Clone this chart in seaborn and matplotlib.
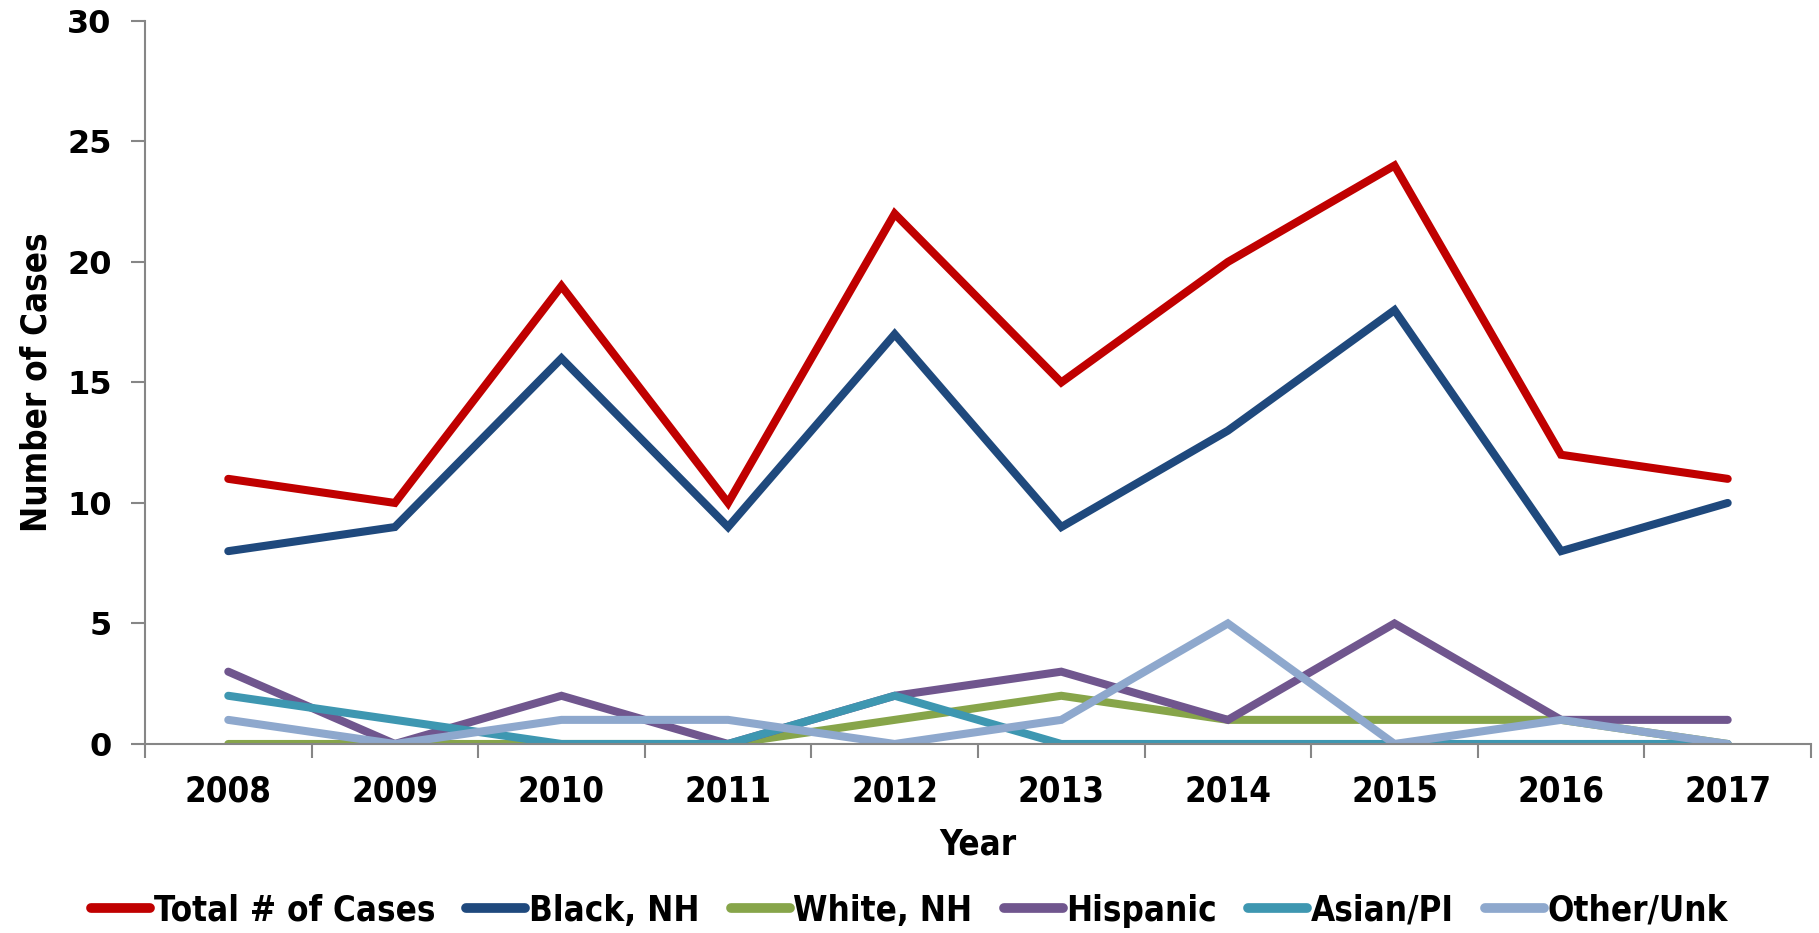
import numpy as np
import pandas as pd
import matplotlib
matplotlib.use("Agg")
import matplotlib.pyplot as plt
import seaborn as sns

years = [2008, 2009, 2010, 2011, 2012, 2013, 2014, 2015, 2016, 2017]
total_cases = [11, 10, 19, 10, 22, 15, 20, 24, 12, 11]
black_nh = [8, 9, 16, 9, 17, 9, 13, 18, 8, 10]
white_nh = [0, 0, 0, 0, 1, 2, 1, 1, 1, 0]
hispanic = [3, 0, 2, 0, 2, 3, 1, 5, 1, 1]
asian_pi = [2, 1, 0, 0, 2, 0, 0, 0, 0, 0]
other_unk = [1, 0, 1, 1, 0, 1, 5, 0, 1, 0]

series_names = ["Total # of Cases", "Black, NH", "White, NH", "Hispanic", "Asian/PI", "Other/Unk"]
series_values = [total_cases, black_nh, white_nh, hispanic, asian_pi, other_unk]
colors = ["#C00000", "#1F497D", "#87A54A", "#70568E", "#3E97B1", "#8EA8CD"]

rows = []
for name, vals in zip(series_names, series_values):
    for yr, v in zip(years, vals):
        rows.append({"Year": yr, "Cases": v, "Group": name})
df = pd.DataFrame(rows)

sns.set_style("white")
plt.rcParams["text.color"] = "black"
plt.rcParams["xtick.color"] = "black"
plt.rcParams["ytick.color"] = "black"
plt.rcParams["axes.labelcolor"] = "black"

fig = plt.figure(figsize=(18.19, 9.33), dpi=100)
ax = fig.add_axes([0.0797, 0.2026, 0.9159, 0.775])

sns.lineplot(data=df, x="Year", y="Cases", hue="Group", hue_order=series_names,
             palette=dict(zip(series_names, colors)), linewidth=5.8,
             ax=ax, legend=True)
for line in ax.get_lines():
    line.set_solid_capstyle("round")
    line.set_solid_joinstyle("miter")

ax.set_xlim(years[0] - 0.5, years[-1] + 0.5)
ax.set_ylim(0, 30)
ax.set_yticks([0, 5, 10, 15, 20, 25, 30])
ax.set_xticks(years)
ax.set_xticks(np.arange(years[0] - 0.5, years[-1] + 1.0, 1.0), minor=True)

for lab in ax.get_yticklabels():
    lab.set_family("DejaVu Sans")
    lab.set_fontweight("bold")
    lab.set_fontsize(23)
ax.set_xticklabels([str(y) for y in years], fontfamily="DejaVu Sans",
                   fontstretch="condensed", fontweight="bold", fontsize=25)

ax.tick_params(axis="x", which="major", bottom=False, length=0, pad=22)
ax.tick_params(axis="x", which="minor", bottom=True, length=10, width=1.5,
               color="#868686", direction="out")
ax.tick_params(axis="y", which="major", left=True, length=10, width=1.5,
               color="#868686", direction="out", pad=14)

for side in ["top", "right"]:
    ax.spines[side].set_visible(False)
for side in ["left", "bottom"]:
    ax.spines[side].set_color("#868686")
    ax.spines[side].set_linewidth(1.5)

ax.set_xlabel("Year", fontfamily="DejaVu Sans", fontstretch="condensed",
              fontweight="bold", fontsize=25, labelpad=14)
ax.set_ylabel("Number of Cases", fontfamily="DejaVu Sans", fontstretch="condensed",
              fontweight="bold", fontsize=25, labelpad=10)

handles, labels = ax.get_legend_handles_labels()
ax.legend(handles, labels, loc="center", bbox_to_anchor=(0.5, 0.024),
          bbox_transform=fig.transFigure, ncol=6, frameon=False,
          prop={"family": "DejaVu Sans", "stretch": "condensed", "weight": "bold", "size": 25},
          handlelength=1.7, handletextpad=0.1, columnspacing=0.9)
for lh in ax.get_legend().get_lines():
    lh.set_linewidth(7)
    lh.set_solid_capstyle("round")

fig.savefig("out.png", dpi=100)
